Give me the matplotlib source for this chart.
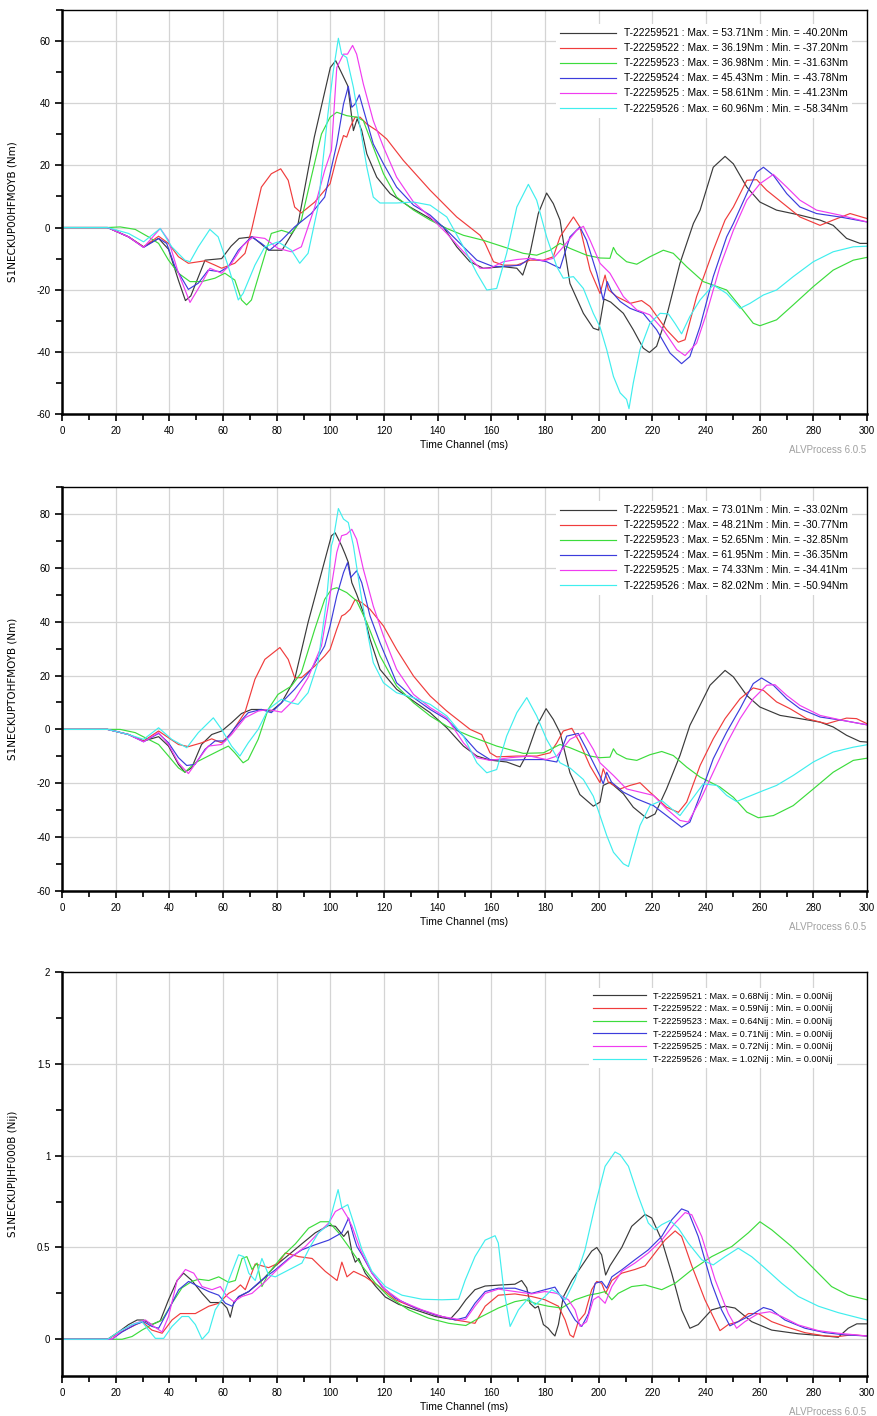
import numpy as np
import matplotlib.pyplot as plt
from matplotlib.ticker import MultipleLocator, FuncFormatter

plt.rcParams['font.family'] = ['Liberation Sans', 'DejaVu Sans']

tests = ['T-22259521', 'T-22259522', 'T-22259523', 'T-22259524', 'T-22259525', 'T-22259526']
colors = ['#3a3a3a', '#f03c3c', '#3cdc3c', '#3c3cdc', '#f03cf0', '#40eeee']

# ---- panel 1 : S1NECKUP00HFMOYB (Nm), (time ms, value) pairs
p1_521 = [(0, 0), (17, 0), (24.8, -3), (30.4, -6.2), (36, -3.5), (39.7, -7), (43.4, -17), (46, -23.5),
          (48, -22), (53.3, -10.5), (59.5, -10), (63, -6), (66, -3.5), (71, -3), (77, -7.3), (82, -7.3),
          (88, 1.3), (94, 29), (100, 51.5), (102, 53.7), (105, 48.3), (106.5, 45.6), (108.6, 31.2),
          (110, 35), (111.7, 31.2), (113.6, 23.7), (117.3, 16.2), (122.3, 10.9), (129.7, 6.6),
          (137.2, 2.9), (142.1, 0.2), (147.1, -6.2), (152, -11), (157, -13.1), (164.5, -12.6),
          (169.5, -13.1), (171.7, -15.3), (174.4, -8.3), (177.5, 4.5), (180.6, 11.1), (183.1, 7.7),
          (185.6, 2.4), (189.3, -18), (194.3, -27.6), (198, -32.4), (200, -33), (202, -23),
          (204.5, -24), (209.2, -27.6), (212.9, -32.9), (216.6, -38.8), (218.9, -40.2), (221.6, -38.2),
          (225.3, -28.6), (230.3, -11.5), (235.3, 1.3), (237.8, 5.6), (242.7, 19.4), (247.1, 22.9),
          (250.2, 20.5), (255.2, 13), (260.1, 8.2), (266.3, 5.6), (275, 4), (282.5, 2.4), (287.4, 0.7),
          (292.4, -3.5), (297.4, -5.1), (300, -5.1)]
p1_522 = [(0, 0), (17, 0), (24.8, -3), (30.4, -6.2), (36, -2.8), (39.7, -5.1), (43.4, -9.4), (47.1, -11.5),
          (53.3, -10.7), (57, -12.1), (59.5, -13.1), (64.4, -11.5), (68.2, -8.3), (70.6, -0.9),
          (74.3, 13), (78, 17.3), (81.5, 18.9), (84.3, 15.2), (86.7, 6.6), (89.2, 4.7), (94.2, 8.2),
          (97.9, 12), (99.9, 14.1), (102.4, 22.6), (104.9, 29.6), (106.1, 29.1), (107.4, 32.3),
          (109.2, 35.5), (111.1, 35.5), (113.6, 33.3), (117.3, 31.2), (121, 28.5), (127.2, 21.6),
          (137.2, 12), (147.1, 3.4), (155.8, -2.5), (157.7, -5.1), (160.8, -11), (164.5, -12.1),
          (169.5, -12.1), (174.4, -10.5), (179.4, -10.5), (183.1, -9.4), (185.6, -3), (190.6, 3.4),
          (193, 0.2), (196.8, -13.7), (200.5, -21.2), (202.4, -15.3), (203.6, -20), (206.7, -22.2),
          (211.7, -24.4), (216, -23.5), (219.1, -25.4), (225.3, -32.9), (229.7, -36.9), (232.2, -36.1),
          (236.5, -22.2), (242.7, -7.3), (247.1, 2.4), (250.2, 6.6), (255.2, 15.2), (258.9, 15.4),
          (262.6, 12), (268.8, 7.7), (275, 3.4), (282.5, 0.7), (287.4, 2.4), (293.7, 4.5), (300, 2.9)]
p1_523 = [(0, 0), (17, 0), (21.7, 0.2), (27.3, -0.6), (32.2, -3), (36, -5.1), (39.7, -10.5), (43.4, -14.7),
          (47.7, -17.4), (52, -17.4), (57, -16.3), (60.7, -14.7), (64.4, -16.9), (66.9, -23.3),
          (68.8, -24.9), (70.6, -23.3), (74.3, -12.6), (78, -1.9), (81.8, -0.9), (85.5, -1.9),
          (89.2, 2.4), (92.9, 16.2), (96.7, 30.1), (99.9, 35.5), (102.4, 37.1), (106.1, 36),
          (109.8, 35.5), (112.3, 34.4), (116, 25.9), (119.8, 17.3), (124.7, 9.8), (131, 5.6),
          (137.2, 2.4), (143.4, -0.3), (149.6, -2.5), (157, -4.1), (164.5, -6.2), (171.9, -8.3),
          (176.9, -8.9), (181.9, -7.3), (185.6, -5.1), (189.3, -6.7), (195.5, -8.9), (200.5, -9.8),
          (204.2, -9.9), (205.5, -6.4), (206.7, -8.3), (210.4, -11), (214.2, -11.8), (219.1, -9.4),
          (224.1, -7.3), (227.8, -8.3), (232.8, -12.6), (239, -17.4), (247.7, -20.1), (252.7, -25.4),
          (257.6, -30.8), (260.1, -31.6), (266.3, -29.7), (272.5, -24.9), (280, -19), (287.4, -13.7),
          (294.9, -10.5), (300, -9.6)]
p1_524 = [(0, 0), (17, 0), (24.8, -3), (30.4, -6.4), (36, -3.5), (39, -5.1), (42.1, -12.6), (47.1, -19.9),
          (50.8, -17.9), (54.5, -13.7), (58.9, -14.2), (62, -12.6), (65.7, -7.3), (70.6, -3),
          (74.3, -5.1), (77.4, -7.3), (81.8, -4.1), (86.7, 0.2), (92.9, 4.5), (97.9, 9.8), (99.9, 17.3),
          (102.4, 26.9), (104.9, 39.7), (106.7, 45.4), (108, 38.7), (109.2, 39.7), (110.8, 42.7),
          (112.3, 38.1), (116, 26.9), (119.8, 20.5), (124.7, 13), (131, 7.2), (137.2, 4), (143.4, -0.9),
          (149.6, -6.2), (154.6, -10.5), (160.8, -12.6), (167, -12.4), (170.7, -12.1), (174.4, -9.9),
          (180.6, -11), (185.6, -13.1), (189.3, -3), (193, 0.2), (195.5, -4.1), (199.3, -14.7),
          (201.7, -23.3), (203.2, -17.4), (204.8, -20.6), (208, -23.8), (211.7, -26), (216.6, -27.6),
          (221.6, -32.9), (226.6, -40.4), (230.9, -43.8), (234, -41.5), (237.8, -31.8), (242.7, -15.8),
          (247.7, -3), (250.2, 1.3), (255.2, 10.9), (258.9, 17.8), (261.4, 19.4), (265.1, 16.8),
          (270.1, 10.9), (275, 6.6), (281.2, 4.5), (289.9, 3.4), (300, 1.8)]
p1_525 = [(0, 0), (17, 0), (24.8, -3), (30.4, -6.4), (36.6, -0.3), (39.7, -4.1), (43.4, -14.7),
          (47.7, -24.1), (52, -17.9), (55.1, -13.1), (59.5, -14.7), (63.2, -11.5), (67.5, -5.7),
          (71.3, -3), (75.6, -3.5), (80.5, -6.7), (85.5, -7.8), (89.2, -6.2), (94.2, 6.6), (97.9, 18.4),
          (100.4, 24.8), (102.4, 51.5), (104.9, 55.8), (106.4, 55.8), (108.3, 58.6), (109.8, 55.8),
          (112.3, 46.2), (116, 34.4), (119.8, 25.9), (124.7, 16.2), (131, 8.2), (137.2, 3.4),
          (143.4, -1.9), (149.6, -7.8), (155.8, -13.1), (159.5, -13.1), (164.5, -11), (169.5, -10.3),
          (174.4, -9.9), (179.4, -10.7), (183.1, -9.9), (186.8, -6.2), (191.8, -0.9), (194.3, 0.4),
          (196.8, -4.1), (200.5, -11.5), (204.2, -14.7), (209.2, -22.2), (214.2, -26.5), (219.1, -28.1),
          (224.1, -32.9), (229.1, -39.3), (232.2, -41.2), (236.5, -37.2), (240.2, -27.6), (245.2, -12.6),
          (250.2, -0.9), (255.2, 8.8), (260.1, 14.1), (265.1, 17.1), (270.1, 13), (275, 8.8),
          (281.2, 5.6), (289.9, 4), (300, 1.8)]
p1_526 = [(0, 0), (17, 0), (24.8, -1.9), (30.4, -4.6), (36.6, -0.3), (40.9, -6.2), (45.8, -10.5),
          (47.7, -11), (50.8, -6.2), (55.1, -0.6), (58.2, -3), (62, -12.6), (65.7, -23.3), (67.5, -21.2),
          (71.9, -12.1), (75.6, -6.2), (80.5, -4.6), (85.5, -7.3), (88.6, -11.5), (91.7, -8.3),
          (95.4, 6.6), (99.1, 36.5), (101.1, 50.4), (103, 60.9), (104.2, 55.8), (106.1, 54.7),
          (108.6, 45.1), (111.1, 32.3), (113.6, 19.4), (116, 9.8), (118.5, 7.9), (124.7, 7.9),
          (131, 8.2), (137.2, 7.2), (143.4, 3.4), (149.6, -6.2), (154.6, -14.7), (158.3, -20.1),
          (162, -19.6), (165.7, -8.3), (169.5, 6.6), (173.8, 13.9), (176.9, 8.8), (180.6, -3),
          (184.4, -12.6), (186.8, -16.3), (190.6, -15.8), (194.3, -19.6), (198, -27.6), (200.5, -32),
          (203, -39.3), (205.5, -47.9), (208, -53.2), (210.4, -55.3), (211.3, -58.3), (212.9, -50),
          (215.4, -39.3), (219.1, -30.8), (222.9, -27.6), (226, -27.8), (228.4, -30.8), (230.9, -34.2),
          (234, -28.6), (237.8, -23.3), (242.7, -18.5), (247.7, -21.2), (252.7, -26), (256.4, -24.4),
          (261.4, -21.7), (266.3, -20.1), (272.5, -15.8), (280, -11), (287.4, -7.8), (294.9, -6.2),
          (300, -6)]

# ---- panel 2 : S1NECKUPTOHFMOYB (Nm)
p2_521 = [(0, 0), (17, 0), (24.8, -1.9), (30.4, -4.3), (36, -2.7), (39.7, -6.2), (43.4, -13), (45.8, -15.9),
          (48.3, -14.3), (52, -5.6), (55.8, -1.9), (59.5, -0.6), (63.2, 2.5), (66.9, 5.9), (70.6, 7.4),
          (74.3, 7.4), (78, 6.8), (81.8, 9.9), (86.7, 18.6), (91.7, 39.7), (96.7, 58.2), (100.4, 71.9),
          (101.8, 73), (104.2, 68.2), (105.5, 65.1), (106.7, 62), (108, 54.5), (109.8, 50.2),
          (112.3, 43.4), (114.8, 33.5), (118.5, 22.3), (124.7, 14.9), (131, 10.5), (137.2, 6.2),
          (143.4, 0.6), (149.6, -6.2), (154.6, -9.9), (159.5, -11.4), (165.7, -12.1), (170.7, -13.9),
          (173.2, -9.3), (176.9, 1.2), (180.4, 7.7), (183.1, 3.7), (185.6, -1.2), (189.3, -16.1),
          (193, -24.2), (198, -28.5), (200.5, -27), (201.7, -20.8), (204.2, -19.6), (209.2, -23.9),
          (212.9, -28.9), (217.9, -33), (221, -31.4), (225.3, -22.1), (230.3, -9.7), (234, 1.5),
          (236.5, 6.4), (241.5, 16.4), (247.1, 21.9), (250.2, 19.5), (255.2, 12.6), (260.1, 8.3),
          (267.6, 5.2), (275, 4), (282.5, 2.7), (287.4, 0.9), (292.4, -2.2), (297.4, -4.5), (300, -4.7)]
p2_522 = [(0, 0), (17, 0), (24.8, -1.9), (30.4, -4.3), (36, -0.6), (39.7, -3.1), (43.4, -5.6), (47.1, -6.4),
          (52, -5), (55.8, -3.5), (59.5, -5), (63.2, -1.2), (68.2, 6.4), (71.9, 18.6), (75.6, 26),
          (81.2, 30.4), (84.3, 26), (86.7, 19.2), (89.2, 19.2), (94.2, 23.5), (97.9, 27.3),
          (99.9, 29.7), (102.4, 37.2), (104.2, 42.1), (105.5, 42.8), (107.4, 44.6), (109.2, 48.2),
          (111.7, 47.1), (114.8, 44.6), (119.8, 38.4), (124.7, 29.7), (131, 19.8), (137.2, 12.4),
          (143.4, 6.8), (152.1, 0), (156.4, -1.9), (159.5, -8.7), (162, -10.2), (169.5, -9.9),
          (176.9, -9.9), (181.9, -8.7), (184.4, -5), (186.8, -0.6), (190, 0.4), (193, -5),
          (196.8, -13.6), (200.5, -19.8), (201.7, -14.6), (203.6, -19.6), (208, -22.1), (211.7, -20.8),
          (215.4, -19.8), (219.1, -23.3), (225.3, -28.9), (229.7, -30.8), (232.8, -27), (237.8, -13.4),
          (242.7, -3.5), (247.1, 4), (252.7, 11.4), (257.6, 15.4), (261.4, 14.5), (266.3, 10.2),
          (271.3, 7.7), (277.5, 4), (285, 2.1), (292.4, 4.2), (296.1, 4), (300, 2.1)]
p2_523 = [(0, 0), (17, 0), (21.7, 0), (27.3, -1.2), (32.2, -3.7), (36, -5.6), (39.7, -9.9), (43.4, -14.3),
          (45.8, -15.9), (49.6, -12.4), (54.5, -9.9), (59.5, -7.4), (62, -6.2), (64.4, -8.7),
          (67.5, -12.4), (69.4, -11.2), (73.1, -3.7), (76.8, 7.4), (80.5, 13), (85.5, 16.1),
          (89.2, 21.1), (94.2, 37.2), (97.9, 48.3), (100.4, 52), (102.4, 52.6), (106.1, 50.8),
          (109.8, 47.7), (113.6, 39.7), (118.5, 27.3), (124.7, 16.1), (131, 9.9), (137.2, 5),
          (143.4, 1.2), (152.1, -2.5), (162, -6.2), (171.9, -8.9), (179.4, -8.7), (185.6, -5.6),
          (189.3, -6.8), (196.8, -9.9), (200.5, -10.5), (204.2, -10.3), (205.5, -7.2), (206.7, -9),
          (210.4, -10.9), (214.2, -11.5), (219.1, -9.4), (223.5, -8.2), (227.8, -9.7), (232.8, -14),
          (237.8, -17.7), (245.2, -21.4), (250.2, -25.2), (255.2, -30.7), (259.5, -32.8), (265.1, -32),
          (272.5, -28.3), (280, -22.1), (287.4, -15.9), (294.9, -11.5), (300, -10.7)]
p2_524 = [(0, 0), (17, 0), (24.8, -1.9), (30.4, -4.6), (36, -1.5), (39.7, -5), (43.4, -10.5), (46.5, -13.4),
          (49.6, -13), (53.3, -7.4), (57, -4.3), (60.7, -4.3), (64.4, 0.6), (69.4, 6.2), (74.3, 7.4),
          (78, 6.2), (81.8, 9.9), (86.7, 14.9), (92.9, 22.3), (97.9, 31), (99.9, 38.4), (102.4, 49.6),
          (104.9, 58.2), (106.4, 61.9), (107.6, 56.4), (109.8, 58.9), (111.7, 54.5), (114.8, 42.1),
          (118.5, 32.2), (124.7, 17.3), (131, 11.8), (137.2, 7.4), (143.4, 3.7), (149.6, -2.5),
          (154.6, -8.1), (159.5, -11.2), (167, -11.4), (173.2, -11.2), (179.4, -11.2), (184.4, -12.1),
          (188.1, -2.5), (192.4, -1.5), (195.5, -7.4), (200.5, -17.3), (201.7, -20.2), (203, -15.9),
          (204.8, -19.6), (209.2, -23.3), (214.2, -25.8), (220.4, -28.3), (225.3, -32), (230.9, -36.3),
          (234, -34.4), (237.8, -24.5), (242.7, -10.9), (247.7, -1), (252.7, 7.7), (257.6, 17),
          (260.7, 19.1), (265.1, 16.4), (270.1, 11.4), (275, 7.7), (282.5, 4.6), (291.2, 3.3), (300, 1.7)]
p2_525 = [(0, 0), (17, 0), (24.8, -1.9), (30.4, -4.6), (36, -1.2), (39.7, -5.6), (43.4, -12.4), (47.1, -16.4),
          (50.8, -11.2), (54.5, -6.2), (59.5, -5.6), (63.2, -1.9), (68.2, 4.3), (73.1, 6.8), (76.8, 7.4),
          (81.8, 6.4), (86.7, 11.2), (91.7, 19.2), (96.7, 31), (99.9, 50), (102.4, 65.7), (104.2, 71.9),
          (106.1, 72.5), (108, 74.3), (109.8, 70.6), (112.3, 59.5), (116, 45.8), (119.8, 34.7),
          (124.7, 22.3), (131, 13), (137.2, 8.1), (143.4, 4.3), (149.6, -5), (154.6, -10.5),
          (159.5, -11.5), (167, -10.5), (174.4, -9.9), (180.6, -11.2), (184.4, -9.9), (189.3, -3.7),
          (194.3, -1.2), (198, -7.4), (200.5, -12.4), (205.5, -17.1), (210.4, -22.1), (215.4, -23.3),
          (220.4, -24.5), (225.3, -29.5), (230.3, -33.8), (233.4, -34.4), (237.8, -26.4), (242.7, -15.9),
          (247.7, -5.3), (252.7, 4), (257.6, 11.4), (262.6, 16.4), (265.7, 16.6), (270.1, 12.6),
          (275, 8.9), (282.5, 5.2), (291.2, 3.3), (300, 1.7)]
p2_526 = [(0, 0), (17, 0), (24.8, -1.9), (30.4, -3.7), (36, 0.6), (40.9, -3.7), (46.5, -6.8), (50.8, -1.2),
          (56.4, 4.3), (59.5, 0), (63.2, -6.2), (66.3, -9.9), (69.4, -5), (73.1, 0), (76.8, 7.4),
          (81.8, 11.2), (85.5, 9.9), (88, 9.3), (91.7, 13.6), (95.4, 24.8), (98.5, 47.1), (100.4, 68.2),
          (101.1, 70.6), (103, 82), (104.9, 78.1), (106.7, 76.8), (108.6, 68.2), (111.1, 52),
          (113.6, 37.2), (116, 24.8), (119.8, 17.3), (124.7, 13.6), (131, 11.8), (137.2, 9.3),
          (143.4, 5), (149.6, -2.5), (154.6, -12.4), (158.3, -16.1), (162, -14.9), (165.7, -2.5),
          (169.5, 6.2), (173.2, 11.8), (176.9, 5), (180.6, -3.7), (185.6, -12.4), (189.3, -14.3),
          (194.3, -18.6), (198, -24.8), (200.5, -32), (203, -39.4), (205.5, -45.6), (209.2, -49.9),
          (211.1, -50.9), (212.9, -44.4), (215.4, -35.7), (219.1, -28.3), (223.5, -26.4), (227.2, -29.5),
          (230.3, -32), (234, -27), (239, -20.2), (244, -20.8), (247.7, -24.5), (251.4, -26.8),
          (255.2, -25.2), (261.4, -22.7), (266.3, -20.8), (272.5, -17.1), (280, -12.1), (287.4, -8.4),
          (294.9, -6.6), (300, -5.7)]

# ---- panel 3 : S1NECKUPIJHF000B (Nij)
p3_521 = [(0, 0), (17, 0), (21.1, 0.04), (24.8, 0.08), (28, 0.105), (30.4, 0.105), (33.5, 0.08), (36.6, 0.1),
          (39.7, 0.215), (42.9, 0.32), (45.3, 0.36), (48.4, 0.32), (52.2, 0.25), (55.3, 0.2), (59.6, 0.2),
          (61.5, 0.17), (62.7, 0.12), (64, 0.2), (65.8, 0.23), (69.6, 0.26), (74.5, 0.32), (79.5, 0.4),
          (84.5, 0.46), (89.4, 0.52), (94.4, 0.58), (99.4, 0.62), (101.9, 0.615), (105, 0.56),
          (106.6, 0.59), (108.1, 0.47), (109.3, 0.42), (110.6, 0.44), (113, 0.36), (116.8, 0.29),
          (120.5, 0.23), (125.5, 0.19), (131.7, 0.16), (139.1, 0.124), (144.7, 0.11), (147.8, 0.16),
          (150.5, 0.215), (153.9, 0.27), (157.7, 0.29), (163.9, 0.296), (168.8, 0.3), (171.3, 0.32),
          (173.2, 0.28), (174.4, 0.196), (176.3, 0.17), (177.5, 0.18), (179.4, 0.08), (181.2, 0.06),
          (182.7, 0.033), (183.7, 0.018), (185, 0.08), (186.8, 0.23), (190, 0.32), (193.7, 0.4),
          (197.4, 0.48), (199.3, 0.5), (201.1, 0.46), (202.6, 0.35), (204.2, 0.4), (208.6, 0.5),
          (212.3, 0.615), (217.3, 0.68), (219.8, 0.66), (223.5, 0.54), (227.2, 0.36), (230.9, 0.16),
          (234, 0.06), (237.1, 0.08), (242.1, 0.16), (247.1, 0.18), (250.8, 0.17), (257, 0.096),
          (264.5, 0.05), (274.4, 0.03), (284.4, 0.018), (289.3, 0.011), (293, 0.06), (296.2, 0.084),
          (300, 0.084)]
p3_522 = [(0, 0), (17, 0), (21.1, 0.033), (24.8, 0.06), (29.8, 0.096), (33.5, 0.05), (37.3, 0.033),
          (41, 0.105), (44.1, 0.14), (49.7, 0.14), (54.7, 0.18), (58.4, 0.196), (62.1, 0.25),
          (64.6, 0.27), (66.5, 0.296), (68.3, 0.27), (72, 0.41), (77, 0.39), (80.7, 0.415), (83.2, 0.47),
          (88.2, 0.45), (93.2, 0.44), (98.1, 0.37), (102.5, 0.32), (104.3, 0.42), (106.2, 0.34),
          (108.7, 0.37), (113, 0.34), (118, 0.29), (124.2, 0.215), (131.7, 0.17), (139.1, 0.133),
          (146.6, 0.105), (150.5, 0.096), (153.9, 0.087), (157.7, 0.18), (162.6, 0.24), (168.8, 0.247),
          (175, 0.233), (180, 0.215), (185, 0.18), (187.5, 0.105), (189.3, 0.024), (190.6, 0.011),
          (192.4, 0.096), (194.9, 0.14), (197.4, 0.27), (199.3, 0.315), (201.1, 0.305), (202.6, 0.25),
          (204.9, 0.32), (208.6, 0.36), (213.5, 0.38), (217.3, 0.4), (221, 0.47), (224.7, 0.54),
          (228.5, 0.59), (230.9, 0.56), (234.7, 0.4), (239.6, 0.215), (245.2, 0.047), (248.3, 0.08),
          (252, 0.096), (255.8, 0.14), (259.5, 0.14), (264.5, 0.096), (269.4, 0.07), (276.9, 0.036),
          (284.4, 0.018), (289.3, 0.015), (294.3, 0.024), (300, 0.018)]
p3_523 = [(0, 0), (17, 0), (22.4, 0), (26.1, 0.015), (29.8, 0.05), (33.5, 0.08), (37.3, 0.105), (41, 0.196),
          (44.7, 0.28), (48.4, 0.315), (50.9, 0.327), (54.7, 0.32), (58.4, 0.34), (62.1, 0.31),
          (64.6, 0.32), (67.1, 0.44), (68.9, 0.45), (70.8, 0.38), (72.7, 0.415), (74.5, 0.287),
          (77, 0.36), (82, 0.45), (87, 0.52), (91.9, 0.605), (96.3, 0.64), (99.4, 0.64), (103.1, 0.58),
          (106.8, 0.505), (111.8, 0.4), (116.8, 0.305), (121.7, 0.233), (129.2, 0.16), (136.6, 0.115),
          (144.1, 0.087), (150.5, 0.075), (156.4, 0.124), (162.6, 0.17), (168.8, 0.205), (172.6, 0.215),
          (176.3, 0.196), (181.2, 0.18), (186.2, 0.17), (191.2, 0.215), (196.2, 0.24), (199.9, 0.25),
          (202.4, 0.26), (204.9, 0.215), (207.3, 0.25), (212.3, 0.287), (217.3, 0.296), (223.5, 0.27),
          (228.5, 0.305), (234.7, 0.378), (242.1, 0.45), (249.6, 0.505), (255.8, 0.58), (260.1, 0.64),
          (264.5, 0.596), (271.9, 0.505), (279.4, 0.396), (286.8, 0.287), (293, 0.24), (300, 0.215)]
p3_524 = [(0, 0), (17, 0), (18.6, 0), (22.4, 0.04), (27.3, 0.08), (30.4, 0.096), (33.5, 0.07), (36, 0.06),
          (39.7, 0.16), (43.5, 0.27), (47.2, 0.315), (50.9, 0.287), (54.7, 0.26), (58.4, 0.24),
          (60.9, 0.196), (63.4, 0.18), (65.8, 0.233), (69.6, 0.26), (74.5, 0.324), (79.5, 0.378),
          (84.5, 0.44), (89.4, 0.487), (94.4, 0.515), (99.4, 0.54), (104.3, 0.58), (106.8, 0.66),
          (108.7, 0.56), (109.9, 0.505), (111.8, 0.46), (115.5, 0.36), (119.3, 0.287), (124.2, 0.224),
          (131.7, 0.17), (139.1, 0.133), (146.6, 0.105), (150.5, 0.12), (153.9, 0.196), (157.7, 0.26),
          (162.6, 0.278), (168.8, 0.278), (175, 0.25), (180, 0.27), (183.7, 0.284), (187.5, 0.196),
          (191.2, 0.105), (193.7, 0.07), (196.2, 0.14), (198.7, 0.305), (201.1, 0.315), (203, 0.278),
          (204.9, 0.34), (208.6, 0.378), (213.5, 0.433), (218.5, 0.487), (223.5, 0.56), (227.2, 0.65),
          (230.9, 0.71), (233.4, 0.696), (237.1, 0.56), (242.1, 0.305), (245.8, 0.16), (248.9, 0.073),
          (252, 0.096), (257, 0.133), (261.4, 0.173), (264.5, 0.16), (269.4, 0.105), (276.9, 0.06),
          (284.4, 0.036), (291.8, 0.024), (300, 0.018)]
p3_525 = [(0, 0), (17, 0), (18.6, 0), (22.4, 0.05), (27.3, 0.087), (31.1, 0.105), (34.2, 0.07), (37.3, 0.04),
          (39.7, 0.124), (42.9, 0.32), (46, 0.38), (49.1, 0.36), (52.2, 0.287), (55.9, 0.27), (59, 0.287),
          (61.5, 0.233), (64, 0.205), (67.1, 0.233), (70.8, 0.25), (75.8, 0.315), (80.7, 0.387),
          (85.7, 0.45), (90.7, 0.505), (95.6, 0.58), (99.4, 0.633), (101.9, 0.696), (104.3, 0.715),
          (106.2, 0.67), (108.1, 0.615), (111.2, 0.487), (115.5, 0.36), (120.5, 0.27), (126.7, 0.205),
          (134.2, 0.16), (141.6, 0.124), (149.1, 0.105), (150.5, 0.11), (153.9, 0.18), (157.7, 0.25),
          (162.6, 0.273), (168.8, 0.26), (175, 0.247), (180, 0.26), (184.4, 0.25), (188.7, 0.215),
          (191.2, 0.16), (193.1, 0.07), (195.5, 0.096), (198, 0.215), (199.9, 0.233), (202.4, 0.196),
          (204.9, 0.287), (208.6, 0.37), (213.5, 0.415), (218.5, 0.47), (223.5, 0.54), (228.5, 0.633),
          (232.2, 0.69), (234.7, 0.678), (238.4, 0.56), (243.4, 0.324), (248.3, 0.14), (251.4, 0.06),
          (254.5, 0.096), (259.5, 0.14), (263.8, 0.15), (268.2, 0.124), (274.4, 0.078), (281.9, 0.047),
          (289.3, 0.033), (300, 0.018)]
p3_526 = [(0, 0), (17, 0), (21.1, 0.04), (26.1, 0.08), (29.8, 0.096), (32.3, 0.05), (34.8, 0.005),
          (37.9, 0.005), (41, 0.07), (44.7, 0.124), (47.2, 0.124), (49.7, 0.08), (52.2, 0), (54.7, 0.04),
          (57.1, 0.16), (59.6, 0.215), (62.1, 0.32), (65.8, 0.46), (67.7, 0.45), (69.6, 0.36), (72, 0.32),
          (74.5, 0.44), (77, 0.35), (79.5, 0.34), (84.5, 0.378), (89.4, 0.415), (92.5, 0.505),
          (95.6, 0.58), (99.4, 0.624), (101.2, 0.724), (102.9, 0.815), (104.3, 0.715), (106.5, 0.733),
          (108.7, 0.633), (111.8, 0.487), (115.5, 0.37), (120.5, 0.287), (126.7, 0.24), (134.2, 0.218),
          (141.6, 0.215), (147.8, 0.218), (150.2, 0.32), (153.9, 0.45), (157.7, 0.54), (161.4, 0.564),
          (162.6, 0.524), (164.5, 0.287), (167, 0.07), (170.1, 0.16), (173.8, 0.224), (176.3, 0.187),
          (180, 0.233), (182.5, 0.27), (185, 0.25), (187.5, 0.215), (191.2, 0.324), (194.9, 0.487),
          (198.6, 0.724), (202.4, 0.942), (206.1, 1.02), (208, 1.005), (211.1, 0.942), (214.8, 0.778),
          (218.5, 0.633), (221, 0.596), (223.5, 0.624), (226.6, 0.647), (229.7, 0.605), (233.4, 0.524),
          (238.4, 0.433), (242.7, 0.405), (247.1, 0.45), (252, 0.496), (257, 0.45), (262, 0.387),
          (268.2, 0.305), (274.4, 0.233), (281.9, 0.18), (289.3, 0.145), (300, 0.105)]

p1_max = ['53.71', '36.19', '36.98', '45.43', '58.61', '60.96']
p1_min = ['-40.20', '-37.20', '-31.63', '-43.78', '-41.23', '-58.34']
p2_max = ['73.01', '48.21', '52.65', '61.95', '74.33', '82.02']
p2_min = ['-33.02', '-30.77', '-32.85', '-36.35', '-34.41', '-50.94']
p3_max = ['0.68', '0.59', '0.64', '0.71', '0.72', '1.02']
p3_min = ['0.00', '0.00', '0.00', '0.00', '0.00', '0.00']

panels = [
    dict(series=[p1_521, p1_522, p1_523, p1_524, p1_525, p1_526], mx=p1_max, mn=p1_min, unit='Nm',
         ylabel='S1NECKUP00HFMOYB (Nm)', ylim=(-60, 70), major=20, minor=10, top=10,
         leg_anchor=(0.988, 0.978), leg_fs=7.35, leg_hl=5.5, leg_ls=0.5),
    dict(series=[p2_521, p2_522, p2_523, p2_524, p2_525, p2_526], mx=p2_max, mn=p2_min, unit='Nm',
         ylabel='S1NECKUPTOHFMOYB (Nm)', ylim=(-60, 90), major=20, minor=10, top=487,
         leg_anchor=(0.988, 0.978), leg_fs=7.35, leg_hl=5.5, leg_ls=0.5),
    dict(series=[p3_521, p3_522, p3_523, p3_524, p3_525, p3_526], mx=p3_max, mn=p3_min, unit='Nij',
         ylabel='S1NECKUPIJHF000B (Nij)', ylim=(-0.2, 2), major=0.5, minor=0.25, top=972,
         leg_anchor=(0.968, 0.972), leg_fs=6.6, leg_hl=5.8, leg_ls=0.4),
]

W, H = 877, 1416
fig = plt.figure(figsize=(W / 100, H / 100), dpi=100)

for p in panels:
    ax = fig.add_axes([62 / W, 1 - (p['top'] + 404) / H, 805 / W, 404 / H])
    for data, name, col, mx, mn in zip(p['series'], tests, colors, p['mx'], p['mn']):
        t, v = np.array(data).T
        ax.plot(t, v, color=col, lw=0.85,
                label=f"{name} : Max. = {mx}{p['unit']} : Min. = {mn}{p['unit']}")
    ax.set_xlim(0, 300)
    ax.set_ylim(*p['ylim'])
    ax.xaxis.set_major_locator(MultipleLocator(20))
    ax.xaxis.set_minor_locator(MultipleLocator(10))
    ax.yaxis.set_major_locator(MultipleLocator(p['major']))
    ax.yaxis.set_minor_locator(MultipleLocator(p['minor']))
    lo = p['ylim'][0]
    ax.yaxis.set_major_formatter(FuncFormatter(
        lambda y, pos, lo=lo: '' if lo == -0.2 and y < 0 else '%g' % y))
    ax.grid(True, which='major', color='#d4d4d4', lw=0.9)
    ax.set_axisbelow(True)
    ax.tick_params(which='both', direction='out', labelsize=7, color='black')
    ax.tick_params(which='major', length=5, width=1.2)
    ax.tick_params(which='minor', length=4, width=1.2)
    for s in ['top', 'right']:
        ax.spines[s].set_linewidth(1.0)
    for s in ['bottom', 'left']:
        ax.spines[s].set_linewidth(1.8)
    ax.set_xlabel('Time Channel (ms)', fontsize=7.5, labelpad=3)
    ax.set_ylabel(p['ylabel'], fontsize=7.5, family='DejaVu Sans')
    ax.yaxis.set_label_coords(-0.055, 0.5)
    leg = ax.legend(loc='upper right', bbox_to_anchor=p['leg_anchor'], fontsize=p['leg_fs'],
                    handlelength=p['leg_hl'], labelspacing=p['leg_ls'], frameon=True,
                    fancybox=False, borderpad=0.4, handletextpad=0.8)
    leg.get_frame().set_edgecolor('none')
    leg.get_frame().set_facecolor('white')
    leg.get_frame().set_alpha(1)
    fig.text(866 / W, 1 - (p['top'] + 440) / H, 'ALVProcess 6.0.5', ha='right', va='center',
             fontsize=7, color='#a0a0a0')

fig.savefig('out.png', dpi=100)
